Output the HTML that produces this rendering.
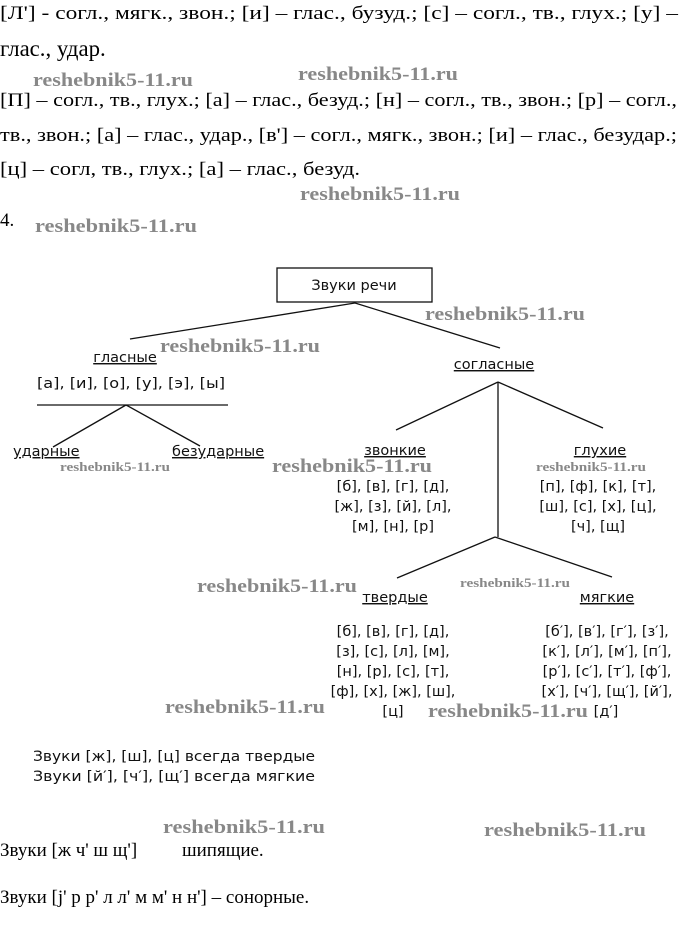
<!DOCTYPE html>
<html><head><meta charset="utf-8"><style>
html,body{margin:0;padding:0;background:#fff;}
svg{display:block}
.s{font-family:"Liberation Serif","DejaVu Serif",serif;font-size:19px;fill:#000}
.d{font-family:"DejaVu Sans","Liberation Sans",sans-serif;font-size:14.5px;fill:#111}
.w{font-family:"Liberation Serif",serif;font-weight:bold;font-size:19px;fill:#888}
.ws{font-family:"Liberation Serif",serif;font-weight:bold;font-size:13px;fill:#888}
line{stroke:#111;stroke-width:1.3}
</style></head><body>
<svg width="680" height="941" viewBox="0 0 680 941">
<text class="s" x="0" y="19" textLength="678" lengthAdjust="spacingAndGlyphs">[Л'] - согл., мягк., звон.; [и] – глас., бузуд.; [с] – согл., тв., глух.; [у] –</text>
<g transform="translate(0,56) scale(1.2)"><text class="s" x="0" y="0">глас., удар.</text></g>
<text class="s" x="0" y="106" textLength="677" lengthAdjust="spacingAndGlyphs">[П] – согл., тв., глух.; [а] – глас., безуд.; [н] – согл., тв., звон.; [р] – согл.,</text>
<text class="s" x="0" y="141" textLength="677" lengthAdjust="spacingAndGlyphs">тв., звон.; [а] – глас., удар., [в'] – согл., мягк., звон.; [и] – глас., безудар.;</text>
<text class="s" x="0" y="175" textLength="360" lengthAdjust="spacingAndGlyphs">[ц] – согл, тв., глух.; [а] – глас., безуд.</text>
<text class="s" x="0" y="226">4.</text>

<rect x="277" y="268" width="155" height="34" fill="#fff" stroke="#111" stroke-width="1.3"/>
<text class="d" x="354" y="290" text-anchor="middle">Звуки речи</text>
<line x1="355" y1="303" x2="130" y2="339"/>
<line x1="355" y1="303" x2="500" y2="348"/>

<text class="d" x="125" y="362" text-anchor="middle" text-decoration="underline">гласные</text>
<text class="d" x="37" y="388" textLength="188" lengthAdjust="spacingAndGlyphs">[а], [и], [о], [у], [э], [ы]</text>
<line x1="37" y1="405" x2="228" y2="405"/>
<line x1="126" y1="405" x2="53" y2="447"/>
<line x1="126" y1="405" x2="200" y2="446"/>
<text class="d" x="13" y="456" text-decoration="underline">ударные</text>
<text class="d" x="172" y="456" text-decoration="underline">безударные</text>

<text class="d" x="494" y="369" text-anchor="middle" text-decoration="underline">согласные</text>
<line x1="498" y1="382" x2="396" y2="430"/>
<line x1="498" y1="382" x2="603" y2="428"/>
<line x1="498" y1="382" x2="498" y2="537"/>
<line x1="495" y1="537" x2="397" y2="578"/>
<line x1="495" y1="537" x2="612" y2="577"/>

<text class="d" x="395" y="455" text-anchor="middle" text-decoration="underline">звонкие</text>
<text class="d" x="393" y="491" text-anchor="middle">[б], [в], [г], [д],</text>
<text class="d" x="393" y="511" text-anchor="middle">[ж], [з], [й], [л],</text>
<text class="d" x="393" y="531" text-anchor="middle">[м], [н], [р]</text>

<text class="d" x="600" y="455" text-anchor="middle" text-decoration="underline">глухие</text>
<text class="d" x="598" y="491" text-anchor="middle">[п], [ф], [к], [т],</text>
<text class="d" x="598" y="511" text-anchor="middle">[ш], [с], [х], [ц],</text>
<text class="d" x="598" y="531" text-anchor="middle">[ч], [щ]</text>

<text class="d" x="395" y="602" text-anchor="middle" text-decoration="underline">твердые</text>
<text class="d" x="393" y="636" text-anchor="middle">[б], [в], [г], [д],</text>
<text class="d" x="393" y="656" text-anchor="middle">[з], [с], [л], [м],</text>
<text class="d" x="393" y="676" text-anchor="middle">[н], [р], [с], [т],</text>
<text class="d" x="393" y="696" text-anchor="middle">[ф], [х], [ж], [ш],</text>
<text class="d" x="393" y="716" text-anchor="middle">[ц]</text>

<text class="d" x="607" y="602" text-anchor="middle" text-decoration="underline">мягкие</text>
<text class="d" x="607" y="636" text-anchor="middle">[б′], [в′], [г′], [з′],</text>
<text class="d" x="607" y="656" text-anchor="middle">[к′], [л′], [м′], [п′],</text>
<text class="d" x="607" y="676" text-anchor="middle">[р′], [с′], [т′], [ф′],</text>
<text class="d" x="607" y="696" text-anchor="middle">[х′], [ч′], [щ′], [й′],</text>
<text class="d" x="606" y="716" text-anchor="middle">[д′]</text>

<text class="d" x="33" y="761" textLength="282" lengthAdjust="spacingAndGlyphs">Звуки [ж], [ш], [ц] всегда твердые</text>
<text class="d" x="33" y="781" fill="#555" textLength="282" lengthAdjust="spacingAndGlyphs">Звуки [й′], [ч′], [щ′] всегда мягкие</text>

<text class="s" x="0" y="856">Звуки [ж ч' ш щ']</text>
<text class="s" x="182" y="856">шипящие.</text>
<text class="s" x="0" y="903">Звуки [j' р р' л л' м м' н н'] – сонорные.</text>

<g>
<text class="w" x="33" y="86" textLength="160" lengthAdjust="spacingAndGlyphs">reshebnik5-11.ru</text>
<text class="w" x="298" y="80" textLength="160" lengthAdjust="spacingAndGlyphs">reshebnik5-11.ru</text>
<text class="w" x="300" y="200" textLength="160" lengthAdjust="spacingAndGlyphs">reshebnik5-11.ru</text>
<text class="w" x="35" y="232" textLength="162" lengthAdjust="spacingAndGlyphs">reshebnik5-11.ru</text>
<text class="w" x="425" y="320" textLength="160" lengthAdjust="spacingAndGlyphs">reshebnik5-11.ru</text>
<text class="w" x="160" y="352" textLength="160" lengthAdjust="spacingAndGlyphs">reshebnik5-11.ru</text>
<text class="ws" x="60" y="471" textLength="110" lengthAdjust="spacingAndGlyphs">reshebnik5-11.ru</text>
<text class="w" x="272" y="472" textLength="160" lengthAdjust="spacingAndGlyphs">reshebnik5-11.ru</text>
<text class="ws" x="536" y="471" textLength="110" lengthAdjust="spacingAndGlyphs">reshebnik5-11.ru</text>
<text class="w" x="197" y="592" textLength="160" lengthAdjust="spacingAndGlyphs">reshebnik5-11.ru</text>
<text class="ws" x="460" y="587" textLength="110" lengthAdjust="spacingAndGlyphs">reshebnik5-11.ru</text>
<text class="w" x="165" y="713" textLength="160" lengthAdjust="spacingAndGlyphs">reshebnik5-11.ru</text>
<text class="w" x="428" y="717" textLength="160" lengthAdjust="spacingAndGlyphs">reshebnik5-11.ru</text>
<text class="w" x="163" y="833" textLength="162" lengthAdjust="spacingAndGlyphs">reshebnik5-11.ru</text>
<text class="w" x="484" y="836" textLength="162" lengthAdjust="spacingAndGlyphs">reshebnik5-11.ru</text>
</g>
</svg>
</body></html>
